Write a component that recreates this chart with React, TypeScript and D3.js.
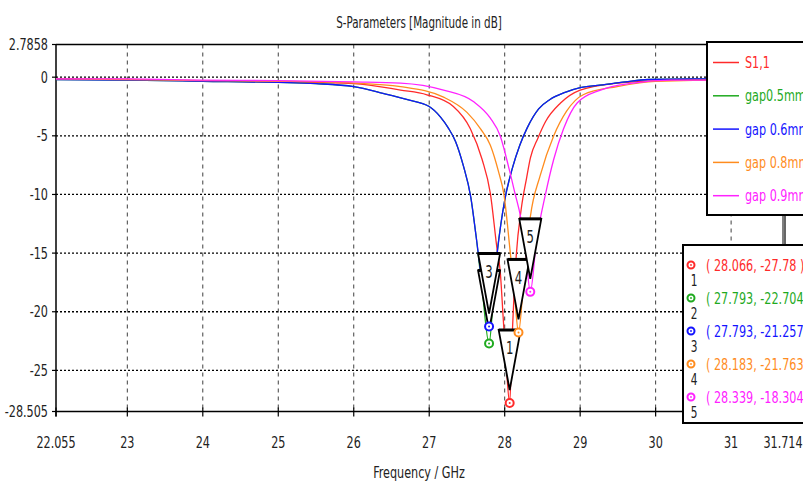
import React from "react";
import * as d3 from "d3";

// curve samples (GHz, dB)
const freqS11 = [22.055, 23, 24, 25, 26, 26.62, 26.97, 27.32, 27.545, 27.7, 27.81, 27.9, 27.94, 27.98, 28.02, 28.066, 28.1, 28.15, 28.22, 28.29, 28.34, 28.44, 28.54, 28.74, 29.0, 29.5, 30, 30.5, 31.714];
const dbS11 = [-0.15, -0.2, -0.3, -0.4, -0.55, -1.1, -1.5, -2.5, -4.4, -7, -9.9, -14.7, -16.5, -20.5, -24.5, -27.78, -22, -15.5, -11.2, -8.6, -6.9, -5.2, -3.8, -2.2, -1.1, -0.5, -0.3, -0.2, -0.25];

const freqGap05 = [22.055, 23, 24, 25, 25.5, 26, 26.4, 26.7, 27.0, 27.15, 27.25, 27.35, 27.45, 27.55, 27.62, 27.7, 27.793, 27.85, 27.9, 27.95, 28.0, 28.1, 28.2, 28.3, 28.45, 28.6, 28.8, 29.0, 29.3, 29.6, 29.9, 30.5, 31.714];
const dbGap05 = [-0.2, -0.25, -0.35, -0.45, -0.55, -0.8, -1.4, -1.9, -2.5, -3.4, -4.3, -5.5, -7.5, -10.2, -13.5, -18, -22.704, -18.8, -15, -12.5, -10.5, -7.8, -5.8, -4.3, -2.7, -1.9, -1.3, -0.9, -0.65, -0.4, -0.2, -0.15, -0.2];

const freqGap06 = [22.055, 23, 24, 25, 25.5, 26, 26.4, 26.7, 27.0, 27.15, 27.25, 27.35, 27.45, 27.55, 27.62, 27.7, 27.793, 27.85, 27.9, 27.95, 28.0, 28.1, 28.2, 28.3, 28.45, 28.6, 28.8, 29.0, 29.3, 29.6, 29.9, 30.5, 31.714];
const dbGap06 = [-0.2, -0.25, -0.35, -0.45, -0.55, -0.8, -1.4, -1.9, -2.5, -3.4, -4.3, -5.5, -7.5, -10.2, -13.5, -17.5, -21.257, -18, -15, -12.5, -10.5, -7.8, -5.8, -4.3, -2.7, -1.9, -1.3, -0.9, -0.65, -0.4, -0.2, -0.15, -0.2];

const freqGap08 = [22.055, 23, 24, 25, 26, 26.62, 27.19, 27.5, 27.68, 27.81, 27.92, 27.99, 28.07, 28.13, 28.183, 28.25, 28.34, 28.47, 28.65, 28.82, 29.04, 29.49, 30, 31, 31.714];
const dbGap08 = [-0.15, -0.2, -0.3, -0.35, -0.5, -0.8, -1.7, -3, -4.4, -5.8, -8.1, -10, -14.7, -18.5, -21.763, -17.5, -11.9, -8.4, -5, -2.9, -1.5, -0.8, -0.35, -0.25, -0.25];

const freqGap09 = [22.055, 23, 24, 25, 26, 26.62, 27.19, 27.59, 27.81, 27.94, 28.05, 28.14, 28.21, 28.28, 28.339, 28.42, 28.54, 28.65, 28.78, 28.96, 29.27, 29.7, 30.2, 31, 31.714];
const dbGap09 = [-0.15, -0.15, -0.25, -0.3, -0.4, -0.5, -1.1, -2.1, -3.5, -5, -7.6, -10, -11.9, -15, -18.304, -14, -10, -7, -4.4, -2.2, -1.1, -0.5, -0.25, -0.25, -0.25];

const seriesNames = ["S1,1", "gap0.5mm", "gap 0.6mm", "gap 0.8mm", "gap 0.9mm"];
const seriesColors = ["#ff2a2a", "#1faa1f", "#1414ff", "#ff8c1e", "#ff22ff"];

// markers: which series, where
const markerSeries = [0, 1, 2, 3, 4];
const markerFreq = [28.066, 27.793, 27.793, 28.183, 28.339];
const markerDb = [-27.78, -22.704, -21.257, -21.763, -18.304];
const markerLabels = ["( 28.066, -27.78 )", "( 27.793, -22.704 )", "( 27.793, -21.257 )", "( 28.183, -21.763 )", "( 28.339, -18.304 )"];

const xTicks = [22.055, 23, 24, 25, 26, 27, 28, 29, 30, 31, 31.714];
const yTicks = [2.7858, 0, -5, -10, -15, -20, -25, -28.505];
const xGrid = [23, 24, 25, 26, 27, 28, 29, 30, 31];
const yGrid = [0, -5, -10, -15, -20, -25];

const FONT = "'Liberation Sans Narrow', 'DejaVu Sans Condensed', sans-serif";

const T = ({ x, y, children, anchor = "start", fill = "#222", size = 16, sx = 0.78 }: any) => (
  <text
    transform={`translate(${x},${y}) scale(${sx},1)`}
    textAnchor={anchor}
    dy="0.35em"
    fill={fill}
    fontSize={size}
    fontFamily={FONT}
  >
    {children}
  </text>
);

export default function App() {
  const left = 56, right = 785, top = 44.5, bottom = 411.5;
  const x = d3.scaleLinear().domain([22.055, 31.714]).range([left, right]);
  const y = d3.scaleLinear().domain([-28.505, 2.7858]).range([bottom, top]);

  const freqs = [freqS11, freqGap05, freqGap06, freqGap08, freqGap09];
  const dbs = [dbS11, dbGap05, dbGap06, dbGap08, dbGap09];

  const paths = freqs.map((f, s) =>
    d3.line<number>()
      .x((d) => x(d))
      .y((_, i) => y(dbs[s][i]))
      .curve(d3.curveMonotoneX)(f)
  );

  const legendX = 707, legendY = 42, legendH = 173;
  const boxX = 683, boxY = 245, boxH = 178;

  return (
    <svg width={803} height={482} style={{ position: "absolute", left: 0, top: 0, background: "#fff" }}>
      <rect width={803} height={482} fill="#fff" />
      <T x={419} y={22} anchor="middle" sx={0.72}>S-Parameters [Magnitude in dB]</T>

      {/* grid */}
      {yGrid.map((v) => (
        <line key={"hy" + v} x1={left} x2={right} y1={y(v)} y2={y(v)} stroke="#000" strokeWidth={1.3} strokeDasharray="2,2" />
      ))}
      {xGrid.map((v) => (
        <line key={"vx" + v} x1={x(v)} x2={x(v)} y1={top} y2={bottom} stroke="#000" strokeWidth={1} strokeDasharray="4,4" opacity={0.75} />
      ))}

      {/* frame */}
      <line x1={left} x2={right} y1={top} y2={top} stroke="#000" strokeWidth={1.5} />
      <line x1={right} x2={right} y1={top} y2={bottom} stroke="#000" strokeWidth={1.2} />
      <line x1={left} x2={left} y1={top} y2={bottom + 5} stroke="#000" strokeWidth={1.5} />
      <line x1={left} x2={right} y1={bottom} y2={bottom} stroke="#000" strokeWidth={1.5} />

      {/* ticks */}
      {yTicks.map((v) => (
        <g key={"yt" + v}>
          <line x1={left - 4} x2={left} y1={y(v)} y2={y(v)} stroke="#000" strokeWidth={1.2} />
          <T x={left - 8} y={y(v)} anchor="end">{String(v)}</T>
        </g>
      ))}
      {xTicks.map((v) => (
        <g key={"xt" + v}>
          <line x1={x(v)} x2={x(v)} y1={bottom - 4} y2={bottom + 5} stroke="#000" strokeWidth={1.2} />
          <T x={x(v) - (v === 31.714 ? 2 : 0)} y={442} anchor="middle">{String(v)}</T>
        </g>
      ))}
      <T x={419} y={472} anchor="middle">Frequency / GHz</T>

      {/* curves */}
      {paths.map((d, s) => (
        <path key={"c" + s} d={d || ""} fill="none" stroke={seriesColors[s]} strokeWidth={1.3} />
      ))}

      {/* marker flags */}
      {markerSeries.map((s, i) => {
        const px = x(markerFreq[i]);
        const py = y(markerDb[i]);
        const tip = py - 13;
        const tt = tip - 60;
        return (
          <g key={"flag" + i}>
            <path d={`M${px - 11},${tt} L${px + 11},${tt} L${px},${tip} Z`} fill="#fff" stroke="#000" strokeWidth={1.8} strokeLinejoin="miter" />
            <line x1={px - 11} x2={px + 11} y1={tt} y2={tt} stroke="#000" strokeWidth={3} />
            {i !== 1 && <T x={px} y={tt + 18} anchor="middle" size={18} sx={0.72}>{String(i + 1)}</T>}
          </g>
        );
      })}
      {markerSeries.map((s, i) => (
        <g key={"mk" + i}>
          <circle cx={x(markerFreq[i])} cy={y(markerDb[i])} r={4} fill="#fff" stroke={seriesColors[s]} strokeWidth={2} />
          <circle cx={x(markerFreq[i])} cy={y(markerDb[i])} r={1} fill={seriesColors[s]} />
        </g>
      ))}

      {/* legend */}
      <line x1={783} x2={783} y1={legendY + legendH} y2={boxY} stroke="#000" strokeWidth={1} />
      <rect x={legendX} y={legendY} width={140} height={legendH} fill="#fff" stroke="#000" strokeWidth={2} />
      {seriesNames.map((n, i) => {
        const ly = legendY + 20.5 + i * 33.3;
        return (
          <g key={"lg" + i}>
            <line x1={713} x2={739} y1={ly} y2={ly} stroke={seriesColors[i]} strokeWidth={1.5} />
            <T x={745} y={ly} fill={seriesColors[i]}>{n}</T>
          </g>
        );
      })}

      {/* marker table */}
      <rect x={boxX} y={boxY} width={140} height={boxH} fill="#fff" stroke="#000" strokeWidth={2} />
      {markerLabels.map((lab, i) => {
        const ry = 265 + i * 33;
        const c = seriesColors[markerSeries[i]];
        return (
          <g key={"tb" + i}>
            <circle cx={691} cy={ry} r={3.5} fill="#fff" stroke={c} strokeWidth={2} />
            <circle cx={691} cy={ry} r={0.9} fill={c} />
            <T x={694} y={ry + 16} anchor="middle" size={15}>{String(i + 1)}</T>
            <T x={706} y={ry} fill={c}>{lab}</T>
          </g>
        );
      })}
    </svg>
  );
}
